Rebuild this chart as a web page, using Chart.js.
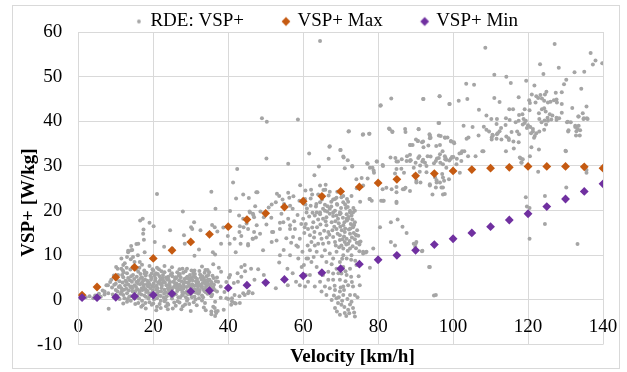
<!DOCTYPE html>
<html>
<head>
<meta charset="utf-8">
<script src="https://cdn.jsdelivr.net/npm/chart.js@4.4.0/dist/chart.umd.min.js"></script>
<style>
  html, body { margin: 0; padding: 0; background: #fff; }
</style>
</head>
<body>
<canvas id="vspChart" width="627" height="372"></canvas>
<script>
// VSP+ Max / Min per speed bin
const speedSteps = [1, 5, 10, 15, 20, 25, 30, 35, 40, 45, 50, 55, 60, 65, 70, 75, 80, 85, 90, 95, 100, 105, 110, 115, 120, 125, 130, 135, 140];
const vspMax = [1.1, 2.9, 5.1, 7.3, 9.3, 11.1, 13.0, 14.7, 16.4, 18.0, 19.4, 20.8, 22.1, 23.2, 24.3, 25.3, 26.2, 27.0, 27.8, 28.3, 28.9, 29.2, 29.5, 29.7, 29.9, 29.9, 29.9, 29.8, 29.5];
const vspMin = [0.5, 0.5, 0.6, 0.8, 1.1, 1.4, 1.9, 2.1, 2.7, 3.3, 3.9, 4.6, 5.4, 6.1, 7.0, 8.0, 9.0, 10.0, 11.1, 12.4, 13.7, 15.0, 16.4, 17.9, 19.3, 20.9, 22.6, 24.3, 26.0];

// RDE samples [velocity, VSP+]
const rdeSamples = [
  // low speed blob
  [8,1.5],[9,2.8],[9.5,0.6],[10,3.6],[10.5,1.9],[11,4.2],[11,0.2],[11.5,2.6],[12,5.1],[12,1.1],[12.5,3.3],[13,6.0],[13,-0.4],[13.5,2.1],[13.8,4.4],[14,0.8],[14.2,3.0],[14.6,5.6],[15,1.6],[15.2,-0.9],[15.5,4.0],[15.8,2.4],[16,6.3],[16.2,0.3],[16.5,3.5],[16.8,1.2],[17,5.0],[17.2,-1.2],[17.5,2.9],[17.8,4.6],[18,0.7],[18.2,6.1],[18.5,2.0],[18.8,3.9],[19,-0.5],[19.2,5.4],[19.5,1.5],[19.8,3.1],[20,6.6],[20.2,0.1],[20.5,4.3],[20.8,2.3],[21,-1.5],[21.2,5.8],[21.5,1.0],[21.8,3.6],[22,-0.2],[22.2,2.7],[22.5,4.9],[22.8,0.5],[23,6.2],[23.2,1.8],[23.5,3.3],[23.8,-0.8],[24,5.2],[24.2,2.1],[24.5,4.0],[24.8,0.9],[25,6.0],[25.2,-1.9],[25.5,2.9],[25.8,4.7],[26,1.3],[26.2,3.7],[26.5,-0.3],[26.8,5.5],[27,2.4],[27.2,0.6],[27.5,4.2],[27.8,1.7],[28,6.1],[28.2,3.0],[28.5,-1.0],[28.8,4.9],[29,2.0],[29.2,0.2],[29.5,3.6],[29.8,5.6],[30,1.2],[30.2,2.7],[30.5,4.4],[30.8,-0.5],[31,3.2],[31.2,5.1],[31.5,1.6],[31.8,2.3],[32,4.0],[32.2,0.4],[32.5,5.7],[32.8,2.9],[33,1.0],[33.2,3.8],[33.5,4.8],[33.8,-0.7],[34,2.5],[34.2,5.3],[34.5,1.4],[34.8,3.4],[35,4.5],[35.5,0.8],[36,2.8],[36.5,-0.4],[37,1.9],
  [10,2.2],[11.8,3.9],[12.8,2.5],[13.3,4.9],[14.5,1.9],[15,3.3],[15.6,5.2],[16.4,2.0],[17,3.9],[17.6,1.0],[18,5.5],[18.6,3.0],[19.4,4.5],[19.9,2.1],[20.4,5.5],[20.9,3.2],[21.4,1.9],[21.9,4.6],[22.4,3.8],[22.9,1.4],[23.4,5.0],[23.9,2.6],[24.4,3.2],[24.9,1.8],[25.4,4.1],[25.9,3.3],[26.4,2.0],[26.9,4.4],[27.4,3.0],[27.9,1.1],[28.4,4.0],[28.9,2.9],[29.4,4.8],[29.9,2.4],[30.4,3.5],[30.9,1.8],[31.4,4.2],[31.9,3.0],[32.4,2.2],[32.9,4.6],[33.4,2.4],[33.9,3.6],[34.4,4.0],[34.9,2.0],[35.3,3.1],[19,0.8],[21,0.4],[23,-0.3],[25,0.3],[27,-0.6],[29,-0.2],[31,0.7],[33,-0.1],[17,-0.2],[15,0.3],[13,1.5],[20,-0.8],[24,-1.1],[26,-1.3],[22,-1.8],[18,-1.9],[16,-0.7],[14,-0.2],
  [9.2,1.2],[10.2,4.6],[10.8,2.9],[11.3,1.4],[11.7,5.6],[12.3,0.4],[12.6,4.3],[13.4,3.4],[13.6,0.7],[14.1,5.3],[14.4,2.6],[14.9,4.7],[15.3,2.0],[15.7,0.9],[16.1,4.4],[16.6,5.8],[16.9,2.6],[17.3,4.3],[17.9,2.4],[18.3,3.5],[18.9,1.4],[19.3,2.6],[19.6,5.9],[20.1,3.7],[20.6,1.2],[20.7,6.0],[21.1,2.6],[21.6,4.1],[22.1,1.9],[22.6,5.6],[23.1,3.9],[23.6,0.8],[24.1,4.5],[24.6,2.7],[25.1,5.3],[25.6,1.5],[26.1,4.9],[26.6,3.0],[27.1,5.8],[27.6,2.2],[28.1,3.6],[28.6,1.6],[29.1,5.2],[29.6,3.1],[30.1,4.9],[30.6,2.1],[31.1,5.8],[31.6,3.6],[32.1,1.4],[32.6,3.4],[33.1,5.3],[33.6,2.0],[34.1,3.0],[34.6,4.6],[35.1,1.6],[35.6,3.8],[36.1,4.9],[36.4,2.2],[35.8,5.4],[34.9,6.2],[33.7,6.1],[32.3,6.5],[30.7,6.0],[28.6,6.4],[26.4,6.2],[24.3,6.6],[22.2,6.4],[19.8,6.9],[17.6,6.6],[15.4,6.8],[14.7,7.5],[13.9,6.8],[12.9,7.2],[11.9,6.6],[21.7,-0.9],[23.4,-1.4],[19.6,-1.1],[17.9,-0.7],[25.6,-0.6],[27.9,-1.4],[29.6,-0.9],[31.6,-1.2],[33.5,-1.7],[16.8,-1.5],[20.8,-2.3],[23.9,-2.1],
  [9.6,3.4],[10.4,0.9],[11.1,3.1],[11.6,1.9],[12.2,2.3],[12.9,4.0],[13.2,0.2],[13.9,2.9],[14.3,4.1],[14.8,0.5],[15.4,2.9],[15.9,3.7],[16.3,1.5],[16.7,4.9],[17.1,2.2],[17.4,3.4],[17.7,5.9],[18.1,1.8],[18.4,4.3],[18.7,0.3],[19.1,3.4],[19.5,5.0],[19.8,1.1],[20.2,2.9],[20.6,4.8],[21.0,1.5],[21.3,3.9],[21.7,5.3],[22.0,0.9],[22.3,3.2],[22.7,4.3],[23.0,2.3],[23.3,0.1],[23.7,4.6],[24.0,1.5],[24.3,3.6],[24.7,5.7],[25.0,2.4],[25.3,1.0],[25.7,3.8],[26.0,5.1],[26.3,2.6],[26.7,0.6],[27.0,3.4],[27.3,5.1],[27.7,1.1],[28.0,2.5],[28.3,4.7],[28.7,0.6],[29.0,3.9],[29.3,1.3],[29.7,4.3],[30.0,3.0],[30.3,0.6],[30.7,5.2],[31.0,2.4],[31.3,0.1],[31.7,4.7],[32.0,3.3],[32.3,1.8],[32.7,5.0],[33.0,3.0],[33.3,0.6],[33.7,4.3],[34.0,1.7],[34.3,3.7],[34.7,5.6],[35.0,2.6],[35.4,4.1],[35.7,1.2],[36.2,3.4],[36.7,4.2],[12.1,6.2],[16.3,7.2],[21.5,6.9],[27.8,7.0],[30.2,6.6],[33.9,6.7],
  // edges of the blob
  [8.1,-2.0],[12,-0.8],[27.5,-2.1],[30,-2.5],[34,-2.3],[35.5,-3.2],[36,-1.5],[37.2,-2.5],[36.5,-3.6],[38,0.5],[39,1.8],[40,0.2],[41,-0.3],[42,-0.8],[43,0.8],[44,1.5],[45.5,1.9],[46.5,1.5],[39.5,4.0],[40.5,5.6],[41.5,3.8],[42.5,6.0],[43.5,5.2],[44.5,6.4],[47,4.5],[48,6.9],[38,3.0],[37,5.0],[37.5,7.2],[36,8.0],[34.5,6.7],[33,7.5],[31,6.6],[29,7.0],[27,6.9],[25,7.3],[23,7.6],[21,7.2],[19,7.6],[17,7.9],[15,8.5],[14,9.1],[13,9.6],[12,7.8],[10.5,7.0],[9.5,5.5],[8.5,4.0],[7.5,3.3],[6.5,2.1],[5.5,1.4],[4.5,1.0],[3,0.8],[2,0.6],[6,0.7],[7,1.2],[4,0.4],
  [10.1,7.4],[11.5,9.3],[13.3,10.7],[14.1,11.1],[8.8,4.5],[10.6,5.6],[12.4,8.2],[7.9,3.3],[7.0,1.9],[11.5,7.0],[14.6,9.6],[15.9,10.0],[17.7,10.7],[16.4,8.5],
  [37.3,4.1],[39.5,0.4],[40.8,-1.1],[41.7,1.1],[42.6,4.1],[44.4,1.1],[43.5,7.4],[46.1,7.0],[38.1,6.3],[36.4,-1.8],[35.5,-2.6],[36.8,-2.9],[41.7,-0.7],
  // 10-30 W/kg below 50 km/h
  [21.0,23.7],[42.4,29.3],[41.3,26.3],[42.1,22.7],[35.5,24.2],[36.6,20.4],[27.9,19.8],[40.5,19.9],[47.5,24.1],[45.7,19.8],[46.6,19.3],[46.9,18.5],[42.9,18.9],[44.1,16.3],[45.3,15.9],[43.0,15.2],[43.5,14.3],[41.7,13.7],[39.9,14.3],[38.1,12.6],[40.4,12.6],[43.3,12.6],[45.3,12.5],[46.6,13.7],[46.9,15.2],
  [16.5,17.8],[17.2,18.2],[19.0,17.3],[20.1,16.5],[17.4,15.8],[17.3,14.8],[17.5,13.5],[20.4,13.0],[24.5,15.6],[22.9,11.9],[25.1,11.5],[28.2,14.5],[28.4,12.6],[30.1,16.3],[30.9,17.4],[30.4,15.9],[32.6,15.6],[35.7,16.8],[36.4,16.3],[37.1,15.3],[38.7,16.2],[32.2,11.3],[35.9,10.7],[36.5,10.2],[31.0,9.9],[14.1,12.1],[15.5,12.5],[13.3,11.0],[14.4,11.2],[16.0,12.6],
  [40.2,5.0],[44.4,7.8],[42.0,10.7],[45.3,12.2],[47.4,14.0],[51.7,15.2],[53.8,10.0],[49.5,5.6],[55.9,3.3],[52.7,2.6],[58.1,4.1],[60.2,7.8],[61.3,9.3],[49.5,18.5],[53.8,17.3],[56.5,15.9],[58.6,11.9],[60.7,5.6],[45.3,1.5],[41.0,0.4],[43.1,-0.7],[38.8,-2.2],[36.7,-2.6],
  // 45-75 km/h cluster
  [45.8,19.6],[46.7,19.0],[44.0,18.2],[43.1,16.5],[44.9,17.1],[46.5,13.7],[47.6,16.7],[48.5,14.8],[49.3,11.1],[51.6,13.0],[52.0,15.2],[52.9,13.3],[53.8,15.9],[54.7,17.4],[54.2,19.3],[56.0,18.2],[56.5,16.7],[57.3,14.1],[58.2,12.2],[56.5,10.0],[58.7,9.3],[60.0,18.2],[60.7,17.0],[61.3,15.9],[61.8,14.5],[62.2,13.0],[62.7,17.4],[63.1,18.9],[63.7,16.3],[64.5,14.8],[64.9,13.7],[65.3,12.6],[65.8,11.1],[63.6,10.8],[61.8,11.1],[65.3,18.2],[66.2,16.7],[66.7,15.2],[67.1,19.3],[67.6,17.4],[68.0,14.1],[68.5,13.0],[68.9,15.9],[69.3,18.2],[69.8,14.5],[70.2,12.2],[70.7,16.7],[71.1,15.2],[71.6,13.7],[72.0,12.6],[72.5,14.8],[72.9,18.9],[73.3,16.3],[73.8,17.4],[69.8,19.6],[68.5,20.0],[66.4,19.8],[71.6,18.2],[70.7,11.5],[68.9,10.8],[67.1,10.4],[68.0,9.3],[69.8,8.5],[70.7,7.4],[70.2,5.9],[69.8,4.5],[70.7,3.0],[69.8,1.9],[68.9,0.4],[69.3,-0.7],[70.2,-1.1],[69.8,-3.3],[68.5,2.2],[67.1,2.6],[66.2,1.1],[67.6,0.0],[68.5,-1.8],[71.6,5.6],[72.0,3.3],[72.5,1.1],[72.9,-0.4],[73.8,1.1],[73.3,-1.8],[72.0,-2.2],[71.1,-2.9],[73.8,-3.7],[70.7,1.1],[73.3,3.0],[72.5,7.0],[71.6,9.3],[72.9,10.0],[74.2,7.8],[70.7,10.0],[66.2,8.5],[66.7,6.3],[65.3,5.6],[64.5,4.1],[65.8,3.0],[64.9,1.9],[66.7,4.5],[68.0,4.5],[68.0,5.9],[68.9,7.0],[59.1,3.3],[60.5,3.0],[61.3,4.1],[59.6,7.4],[62.2,8.5],[63.6,7.4],[60.9,9.3],[61.8,5.6],[63.1,3.0],[64.5,5.9],[63.1,12.2],[59.1,13.7],[57.8,15.9],[65.8,20.0],[64.5,19.6],[73.8,20.0],[72.5,20.0],[75.1,13.0],[76.0,10.8],[76.9,10.8],[75.1,3.3],[68.9,18.9],[71.1,13.0],[72.5,11.5],
  [61,20.5],[62.5,19.5],[63.5,21.5],[64,18],[65,22.5],[66,17.6],[66.5,21],[67,14.6],[67.5,22],[68,18.8],[68.3,16.4],[68.7,12.2],[69,21.5],[69.5,17.2],[69.8,13.4],[70,19.4],[70.3,15.6],[70.6,18.4],[70.9,14.2],[71.2,16.0],[71.4,20.6],[71.7,17.8],[71.9,11.0],[72.2,15.8],[72.4,13.2],[72.7,17.0],[73,14.0],[73.2,12.0],[73.5,15.0],[73.8,13.6],[74.1,11.6],[74.4,15.6],[74.7,14.4],[75,12.4],[63,15.2],[64,12.6],[65.6,15.5],[66.8,12.8],[62.4,16.2],[61.2,12.2],[60.3,15.0],[59.5,17.0],[58.5,19.0],[57.6,17.6],[56.8,12.8],[55.5,13.8],[54.8,11.2],[53.6,8.4],[55.8,7.0],[57.2,6.0],[59.8,10.8],[62.8,9.6],[65,9.8],[67.6,8.0],[69.4,6.0],[71.3,4.2],[68.4,3.2],[72.8,5.2],[71.8,0.2],[70.4,-0.2],[69,-2.6],[71.5,-3.6],[72.5,-1.0],[73.6,-2.8],[70.9,2.2],[68.2,1.0],[74.5,0.6],[73.9,8.8],[74.8,5.3],[73.4,20.6],[72,22.0],[70.2,23.0],[68.5,22.6],[66.8,23.4],[65.4,24.6],[64,23.6],[62.4,23.6],[60.6,21.4],[59,22.2],[57.4,23.2],[56,24.0],[54.5,22.5],[53,23.8],[51.5,18.4],[50.2,16.9],[48.6,19.8],[47.2,21.0],[45.5,22.8],[44,23.6],
  [68.6,17.6],[69.2,14.8],[69.9,16.4],[70.5,13.6],[71.0,17.4],[71.5,12.4],[72.1,18.6],[72.6,16.0],[73.1,18.0],[73.6,16.8],[74.0,14.6],[74.3,12.8],[70.1,20.6],[71.9,20.8],[69.6,11.8],[72.8,9.0],[67.8,15.6],[66.3,14.0],[64.6,16.9],[62.9,14.0],[61.6,18.7],[60.4,16.3],[70.4,9.2],[71.3,6.4],[73.0,4.0],[70.0,2.8],[71.0,-1.6],[72.3,-3.0],[69.5,0.6],
  // 45-90 km/h upper spread
  [49.0,40.7],[50.3,39.9],[58.6,40.4],[64.5,58.0],[80.7,43.6],[72.1,37.7],[76.0,37.1],[77.6,37.2],[83.1,38.2],[83.8,37.6],[87.2,38.3],[87.3,37.6],[50.2,31.7],[56.0,30.5],[61.6,32.8],[67.0,34.3],[66.8,31.6],[69.9,33.6],[70.8,31.9],[71.9,31.3],[64.2,29.9],[77.1,30.6],[77.8,29.6],[78.8,29.0],[79.6,31.0],[81.3,30.0],[84.6,31.8],[84.9,31.0],[87.6,31.1],[88.6,31.3],[88.6,34.7],[90.1,35.9],[89.5,29.6],[86.2,29.4],[84.9,29.3],[84.5,28.3],[71.1,29.5],[73.1,29.9],[63.0,27.9],[74.2,27.0],[75.6,27.3],[77.2,27.2],[74.3,25.0],[72.9,23.3],[75.2,22.0],[77.7,22.6],[78.3,22.2],[80.8,22.2],[81.5,22.2],[82.2,25.1],[83.6,24.8],[84.9,25.3],[86.6,24.8],[87.3,25.1],[84.9,24.1],[84.9,22.0],[47.8,24.1],[59.2,25.7],
  [60.6,24.5],[62.1,24.7],[64.5,25.6],[66.0,25.8],[65.9,24.7],[67.1,24.2],[69.1,24.2],[68.0,22.5],[68.9,22.9],[70.7,23.3],[71.7,22.6],[69.1,21.3],[71.2,21.4],[67.5,20.9],[65.8,21.3],[64.5,21.9],[63.4,20.9],[62.0,22.7],[60.5,22.6],[62.0,21.1],[63.6,19.6],[56.3,22.9],[53.6,23.3],[52.7,21.9],[51.6,21.4],[50.8,20.7],[54.9,21.5],[56.5,21.1],[57.2,20.4],[60.9,19.6],[64.5,19.2],[65.3,20.4],[67.1,20.4],[68.0,19.6],[69.8,19.2],[71.6,19.2],[73.3,19.6],[66.2,18.5],
  [72.2,37.8],[75.9,37.0],[77.7,37.2],[80.6,43.5],[83.5,45.1],[92.0,45.0],[96.4,45.6],[99.0,43.9],[82.9,38.4],[83.8,37.7],[90.8,38.3],[88.5,34.7],[90.6,35.6],[91.7,35.3],[92.1,34.2],[93.4,34.6],[93.8,36.8],[93.8,36.2],[96.2,36.8],[96.1,39.6],[96.5,34.7],[97.8,36.4],[98.5,36.4],[99.4,35.6],[100.3,35.1],[67.1,34.4],[70.0,33.6],[70.7,32.1],[73.1,30.0],[79.7,31.0],[81.2,30.2],[77.2,30.5],[78.5,29.6],[78.9,28.5],
  [83.3,31.9],[85.3,31.0],[86.3,31.5],[87.7,32.2],[88.7,31.3],[90.0,30.7],[91.0,32.2],[91.2,30.1],[92.5,30.7],[93.2,32.2],[94.0,32.1],[94.9,30.6],[95.4,31.1],[96.5,32.6],[97.8,32.2],[97.3,30.4],[98.2,31.4],[99.0,31.2],[99.4,31.6],[101.7,32.8],[102.4,33.3],[104.0,32.2],[106.0,32.2],[107.8,33.3],[86.9,28.5],[89.8,28.0],[91.1,28.7],[92.9,28.6],[95.2,27.4],[96.5,26.3],[97.1,28.2],[97.6,26.7],[98.9,27.0],
  // 75-100 km/h below the max curve
  [80.5,16.3],[83.4,17.4],[85.2,18.0],[86.5,16.4],[87.6,15.0],[83.4,13.0],[84.5,12.2],[78.7,11.5],[76.0,10.4],[76.7,10.6],[77.8,7.2],[75.0,10.9],[75.3,13.1],[74.2,14.5],[73.3,16.7],[72.0,18.2],[72.5,19.6],[70.7,21.9],[76.0,25.6],[77.8,22.6],[81.3,22.2],[81.2,24.8],[84.9,21.7],[86.9,24.8],[88.5,24.4],[90.2,26.3],[93.8,25.6],[95.6,26.3],[97.8,23.7],[97.3,25.2],[93.8,7.4],[94.9,1.0],[95.4,1.1],[89.5,12.6],[90.2,13.0],[91.7,10.9],
  [88.5,31.1],[91.8,31.0],[92.9,30.0],[95.7,31.7],[97.9,31.5],[96.6,30.7],[99.7,32.0],[98.2,29.6],[100.9,30.4],[102.2,31.1],[101.8,28.5],[97.3,27.4],[95.6,26.8],[96.9,25.2],[95.4,25.2],[94.5,23.6],[97.3,23.6],[93.8,25.9],[90.2,26.7],[91.3,26.3],
  // high speed
  [108.6,56.5],[127.1,57.3],[136.7,55.3],[138.0,53.6],[137.3,52.7],[139.8,53.0],[123.2,52.8],[128.2,52.0],[124.1,50.6],[132.4,51.0],[135.0,51.1],[111.0,50.4],[114.2,50.0],[115.4,48.6],[119.5,49.1],[121.7,48.0],[130.2,49.3],[129.6,48.3],[134.2,47.3],[103.5,48.4],[105.6,48.2],[92.1,45.0],[96.4,45.6],[99.1,43.9],[101.5,44.6],[103.8,45.0],[111.0,45.2],[112.4,44.3],[106.9,42.6],[117.5,45.4],[115.0,42.7],[116.0,42.7],[119.1,42.7],
  [121.0,46.0],[122.2,45.6],[123.3,45.9],[124.9,46.6],[124.5,46.0],[127.4,46.4],[129.0,46.5],[120.3,44.7],[120.5,44.1],[122.0,44.2],[122.7,45.2],[123.7,45.1],[124.3,44.6],[125.3,44.2],[126.0,44.4],[126.9,44.7],[127.6,44.9],[127.7,44.2],[129.0,43.9],[131.8,43.0],[135.6,43.3],[134.6,41.8],[133.5,41.1],[134.8,40.5],[135.9,40.5],[120.4,42.5],[122.9,41.8],[123.7,42.7],[124.3,42.9],[124.7,42.2],[125.8,41.6],[126.5,41.3],[127.6,40.8],[127.6,40.3],[129.0,41.9],[130.6,39.9],[131.4,39.8],[123.0,40.5],[123.6,39.8],[124.4,40.2],[125.2,40.8],[126.2,40.4],
  [132.6,39.0],[133.2,38.3],[133.5,39.0],[133.9,38.0],[132.8,36.8],[130.7,37.7],[130.0,33.4],[108.9,41.3],[110.2,40.5],[111.7,40.5],[112.8,38.5],[111.6,39.4],[114.1,40.7],[115.1,40.3],[114.0,39.2],[112.4,37.8],[111.7,37.1],[110.5,37.0],[110.3,35.9],[112.9,35.9],[114.2,36.6],[114.9,35.8],[116.1,35.5],[117.5,35.3],[118.1,31.7],[116.2,33.9],[114.1,33.3],[120.9,34.2],[121.8,36.7],[121.3,37.7],[119.7,38.5],[118.6,39.3],[117.6,41.4],[118.5,41.6],[118.8,40.5],[119.4,40.1],[119.1,39.6],[120.0,39.1],[120.6,38.7],[121.3,38.3],[120.8,37.3],[121.6,36.3],[122.2,37.3],[123.0,37.7],[124.3,38.1],[124.8,39.3],[125.3,40.1],[117.5,40.1],[116.7,39.8],[117.1,37.7],[117.6,37.1],[115.6,37.6],[114.8,36.2],
  [90.8,38.2],[93.7,37.1],[94.0,36.3],[92.0,35.5],[90.6,35.6],[96.3,39.6],[96.7,36.7],[97.9,36.3],[99.5,35.5],[100.2,35.3],[95.5,34.5],[97.2,33.3],[102.8,39.0],[105.2,38.7],[104.1,36.4],[103.6,36.1],[106.8,36.8],[108.2,38.8],[108.9,38.1],[109.6,37.7],[108.1,33.3],[103.0,33.3],[102.2,32.9],[100.1,32.0],[101.0,31.6],[98.0,31.8],[96.2,31.8],[90.7,31.8],[92.0,31.4],[89.2,34.7],[88.5,32.5],[110.3,36.4],[111.6,36.1],[111.9,37.3],[110.6,36.8],
  [132.6,38.7],[133.4,41.1],[134.9,40.7],[135.7,40.7],[133.8,36.8],[132.9,37.8],[130.4,39.8],[128.3,40.7],[130.8,38.0],[120.5,32.2],[122.9,33.7],[135.6,29.1],[130.1,33.3],[122.7,28.7],[118.2,30.8],[118.6,31.5],
  [117.8,31.9],[118.3,30.7],[135.6,28.5],[130.2,25.2],[124.5,23.3],[119.4,23.0],[119.7,20.9],[120.4,20.6],[124.5,17.0],[120.4,13.7],[133.2,12.5],[93.6,7.4],[90.0,12.6],[89.9,11.9],[91.8,11.0]
];

const xTicksStep = 20;
const yTicksStep = 10;

const serif = "'Liberation Serif', 'Times New Roman', serif";

// Marker images for the legend (shape sits on the right side of a wide box)
function legendMarker(shape, color, r) {
  const c = document.createElement("canvas");
  c.width = 64;
  c.height = 14;
  const g = c.getContext("2d");
  const cx = 46, cy = 7;
  g.fillStyle = color;
  g.beginPath();
  if (shape === "dot") {
    g.arc(cx, cy, r, 0, Math.PI * 2);
  } else {
    g.moveTo(cx - r, cy);
    g.lineTo(cx, cy - r);
    g.lineTo(cx + r, cy);
    g.lineTo(cx, cy + r);
    g.closePath();
  }
  g.fill();
  return c;
}

const legendMarkers = [
  legendMarker("dot", "#a5a5a5", 1.9),
  legendMarker("diamond", "#c55a11", 4.4),
  legendMarker("diamond", "#7030a0", 4.4),
];

// Outer chart frame
const chartFrame = {
  id: "chartFrame",
  beforeDraw(chart) {
    const ctx = chart.ctx;
    ctx.save();
    ctx.fillStyle = "#fff";
    ctx.fillRect(0, 0, chart.width, chart.height);
    ctx.strokeStyle = "#d9d9d9";
    ctx.lineWidth = 1;
    ctx.strokeRect(12.5, 5.5, 607, 363);
    ctx.restore();
  },
};

const ctx = document.getElementById("vspChart").getContext("2d");

new Chart(ctx, {
  type: "scatter",
  data: {
    datasets: [
      {
        label: "RDE: VSP+",
        data: rdeSamples.map((p) => ({ x: p[0], y: p[1] })),
        backgroundColor: "#a5a5a5",
        pointRadius: 2,
        pointBorderWidth: 0,
        order: 2,
      },
      {
        label: "VSP+ Max",
        data: speedSteps.map((v, i) => ({ x: v, y: vspMax[i] })),
        backgroundColor: "#c55a11",
        pointStyle: "rectRot",
        pointRadius: 4.4,
        pointBorderWidth: 0,
        order: 1,
      },
      {
        label: "VSP+ Min",
        data: speedSteps.map((v, i) => ({ x: v, y: vspMin[i] })),
        backgroundColor: "#7030a0",
        pointStyle: "rectRot",
        pointRadius: 4.4,
        pointBorderWidth: 0,
        order: 0,
      },
    ],
  },
  options: {
    responsive: false,
    animation: false,
    layout: { padding: 0 },
    plugins: {
      tooltip: { enabled: false },
      legend: {
        position: "top",
        maxHeight: 32,
        labels: {
          usePointStyle: true,
          pointStyleWidth: 32,
          boxHeight: 12,
          padding: 12,
          color: "#000",
          font: { family: serif, size: 19 },
          generateLabels: (chart) =>
            chart.data.datasets.map((ds, i) => ({
              text: ds.label,
              pointStyle: legendMarkers[i],
              fillStyle: ds.backgroundColor,
              strokeStyle: ds.backgroundColor,
              lineWidth: 0,
              hidden: false,
              fontColor: "#000",
              datasetIndex: i,
            })),
        },
      },
    },
    scales: {
      x: {
        type: "linear",
        position: { y: 0 },
        min: 0,
        max: 140,
        ticks: {
          stepSize: xTicksStep,
          padding: 16,
          maxRotation: 0,
          color: "#000",
          font: { family: serif, size: 19 },
        },
        grid: { color: "#d9d9d9", drawTicks: false },
        border: { color: "#d9d9d9" },
        afterFit: (s) => {
          // labels sit inside the plot, so take no layout room
          s.height = 0;
          s.paddingLeft = 0;
          s.paddingRight = 0;
        },
      },
      xTitle: {
        type: "linear",
        axis: "x",
        position: "bottom",
        min: 0,
        max: 140,
        grid: { display: false },
        ticks: { display: false },
        border: { display: false },
        title: {
          display: true,
          text: "     Velocity [km/h]",
          color: "#000",
          font: { family: serif, size: 19, weight: "bold" },
          padding: { top: 0, bottom: 1 },
        },
        afterFit: (s) => {
          s.height = 25;
        },
      },
      y: {
        type: "linear",
        position: "left",
        min: -10,
        max: 60,
        ticks: {
          stepSize: yTicksStep,
          padding: 16,
          color: "#000",
          font: { family: serif, size: 19 },
        },
        grid: { color: "#d9d9d9", drawTicks: false },
        border: { color: "#d9d9d9" },
        title: {
          display: true,
          text: "VSP+ [W/kg]      ",
          color: "#000",
          font: { family: serif, size: 19, weight: "bold" },
          padding: { top: 17.6, bottom: 0 },
        },
        afterFit: (s) => {
          s.width = 78.3;
        },
      },
      yRight: {
        type: "linear",
        axis: "y",
        position: "right",
        grid: { display: false },
        ticks: { display: false },
        border: { display: false },
        afterFit: (s) => {
          s.width = 24;
        },
      },
    },
  },
  plugins: [chartFrame],
});
</script>
</body>
</html>
